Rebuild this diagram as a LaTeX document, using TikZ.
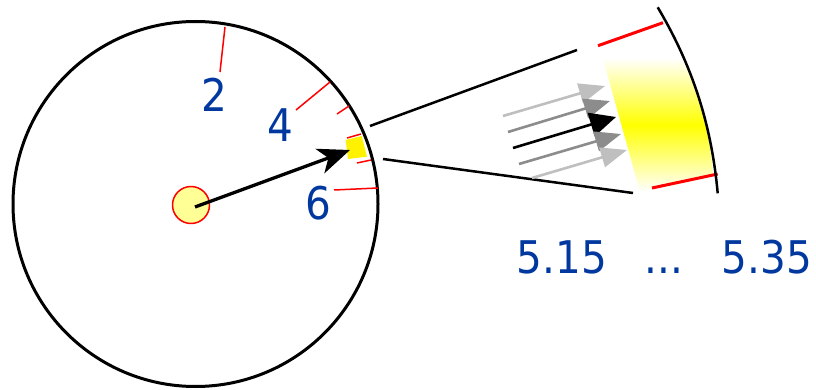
\documentclass[tikz,border=0pt]{standalone}
\usepackage{fontspec}
\setmainfont{DejaVu Sans}[FakeStretch=0.9]
\usepackage{xcolor}
\usetikzlibrary{arrows.meta}
\definecolor{numblue}{RGB}{0,56,160}
\definecolor{pale}{RGB}{255,255,150}

\begin{document}
\begin{tikzpicture}[x=1pt, y=-1pt, line join=round,
  rim/.style={line width=3pt},
  tick/.style={red, line width=1.5pt},
  bigtick/.style={red, line width=3pt},
  beam/.style={line width=2.5pt},
  num/.style={text=numblue, inner sep=0pt, font=\fontsize{45}{54}\selectfont},
  ray/.style={line width=2.6pt, -{Triangle[length=26pt, width=20pt]}}]
\useasboundingbox (0,0) rectangle (816,390);
% the disc with its hub and the marked spot
\draw[rim] (195.5,204) circle[radius=182.5pt];
\draw[red, fill=pale, line width=1.5pt] (191,205) circle[radius=18.5pt];
\fill[yellow] (345.7,140) -- (361.7,136) -- (367,156.7) -- (348,159) -- cycle;
\coordinate (hub) at (195,207); \coordinate (spot) at (350,150);
\draw[line width=3.3pt, -{Stealth[length=32pt, width=26pt, inset=9pt]}] (hub) -- (spot);
\draw[tick] (225,27) -- (220,72); \draw[tick] (330,82) -- (296,110);
\draw[tick] (349,106) -- (337,114); \draw[tick] (361,134) -- (347,138);
\draw[tick] (371,160) -- (357,163); \draw[tick] (378,188) -- (334,190);
\node[num] (two) at (214.7,95) {2};
\node[num] (four) at (280,125.5) {4};
\node[num] (six) at (318,203.5) {6};
% zoomed view of the spot
\coordinate (up0) at (370,126); \coordinate (up1) at (577,50);
\coordinate (dn0) at (383,159); \coordinate (dn1) at (633,193);
\draw[beam] (up0) -- (up1); \draw[beam] (dn0) -- (dn1);
\begin{scope}
\clip (600,48) -- (663,24) .. controls (697,80) and (710,130) .. (713,176) -- (640,192) -- cycle;
\shade[top color=white, bottom color=white, middle color=yellow] (590,58) rectangle (720,192);
\end{scope}
\draw[bigtick] (598,45.7) -- (663,22.7); \draw[bigtick] (652,188) -- (717.7,174);
\draw[beam] (657.7,7.3) .. controls (695,70) and (712,130) .. (717.7,193.3);
\draw[ray, black!25] (503,116) -- (605,86);
\draw[ray, black!45] (508,132) -- (610,101);
\draw[ray, black, -{Triangle[length=26pt, width=24pt]}] (513,148) -- (616,117);
\draw[ray, black!45] (519,164) -- (621,134);
\draw[ray, black!25] (532,178) -- (627,150);
\node[num, anchor=base] (lo) at (562,273) {5.15};
\node[num, anchor=base] (dots) at (664,273) {...};
\node[num, anchor=base] (hi) at (767,273) {5.35};
\end{tikzpicture}
\end{document}
